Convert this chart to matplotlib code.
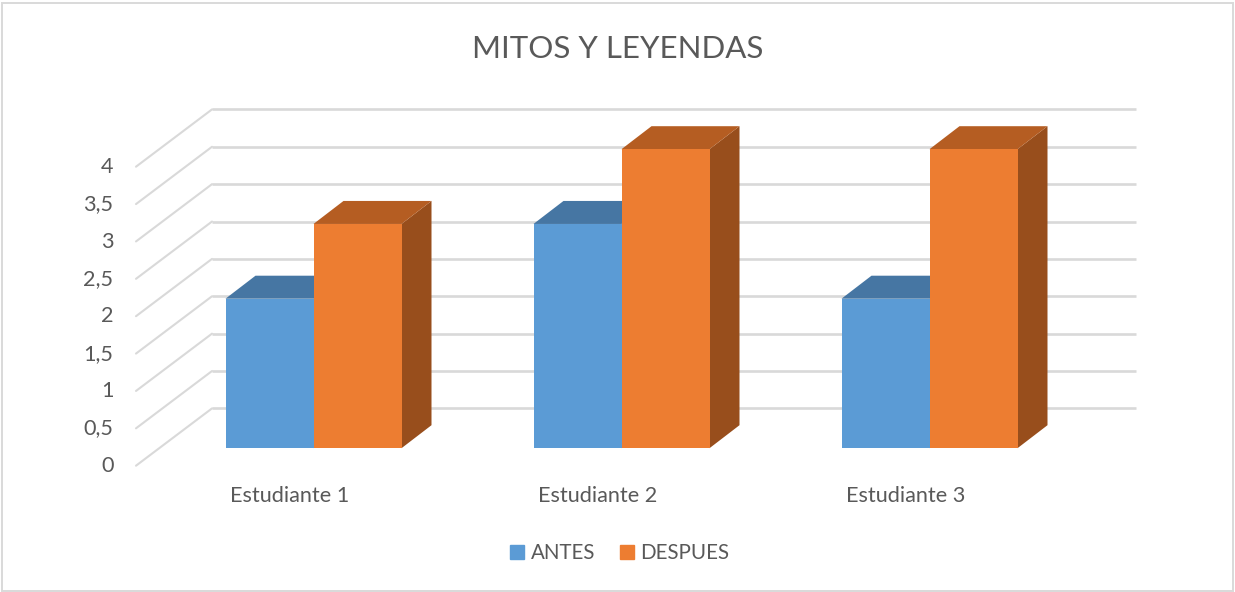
import matplotlib
matplotlib.use("Agg")
import matplotlib.pyplot as plt
from matplotlib.patches import Patch, Rectangle
from matplotlib.transforms import ScaledTranslation
import numpy as np

categories = ["Estudiante 1", "Estudiante 2", "Estudiante 3"]
antes = [2, 3, 2]
despues = [3, 4, 4]
y_ticks = [0, 0.5, 1, 1.5, 2, 2.5, 3, 3.5, 4]
y_labels = ["0", "0,5", "1", "1,5", "2", "2,5", "3", "3,5", "4"]
title = "MITOS Y LEYENDAS"

W, H = 1235, 592
PX_X = 308.0      # pixels per category
PX_Y = 74.75      # pixels per value unit
LEFT, RIGHT = 212.0, 1136.0
BOTTOM, TOP = 408.4, 109.4

plt.rcParams["font.family"] = ["Lato", "DejaVu Sans"]
TXT = "#595959"
GRID = "#D9D9D9"

fig = plt.figure(figsize=(W / 100, H / 100), dpi=100)
fig.patch.set_facecolor("white")
fig.add_artist(Rectangle((1.5 / W, 1 - 590.5 / H), 1231.5 / W, 587.5 / H,
                         transform=fig.transFigure, fill=False,
                         edgecolor=GRID, linewidth=1.4))

ax = fig.add_axes([LEFT / W, 1 - BOTTOM / H, (RIGHT - LEFT) / W, (BOTTOM - TOP) / H])
ax.patch.set_alpha(0)
for s in ax.spines.values():
    s.set_visible(False)

# floor depth (from the back wall to the front plane), in data units
floor_dx = -76.0 / PX_X
floor_dy = -57.3 / PX_Y
# bar front plane and bar depth
bar_front_dx = -52.5 / PX_X
bar_front_dy = -39.8 / PX_Y
bar_depth_dx = 30.0 / PX_X
bar_depth_dy = 23.0 / PX_Y
bar_w = 88.0 / PX_X

# gridlines: back wall and side wall
for v in y_ticks:
    ax.plot([0, 3], [v, v], color=GRID, lw=1.9, clip_on=False, zorder=1,
            solid_capstyle="butt")
    ax.plot([floor_dx, 0], [v + floor_dy, v], color=GRID, lw=1.5, clip_on=False,
            zorder=1, solid_capstyle="round")

def draw_series(values, offset, front, top, side, z):
    for i, v in enumerate(values):
        x0 = i + 0.5 + bar_front_dx + offset * bar_w
        x1 = x0 + bar_w
        yb = bar_front_dy
        yt = yb + v
        ax.fill([x1, x1 + bar_depth_dx, x1 + bar_depth_dx, x1],
                [yb, yb + bar_depth_dy, yt + bar_depth_dy, yt],
                color=side, lw=0, clip_on=False, zorder=z)
        ax.fill([x0, x0 + bar_depth_dx, x1 + bar_depth_dx, x1],
                [yt, yt + bar_depth_dy, yt + bar_depth_dy, yt],
                color=top, lw=0, clip_on=False, zorder=z)
        ax.bar(x0, v, width=bar_w, bottom=yb, align="edge", color=front, lw=0,
               clip_on=False, zorder=z + 0.1)

draw_series(antes, -1, "#5B9BD5", "#4676A3", "#3F6C96", 2)
draw_series(despues, 0, "#ED7D31", "#B55D22", "#984E1C", 3)

ax.set_xlim(0, 3)
ax.set_ylim(0, 4)

ax.set_xticks([i + 0.5 for i in range(len(categories))], categories)
ax.set_yticks(y_ticks, y_labels)
ax.tick_params(length=0, labelsize=15.6, labelcolor=TXT)
ax.tick_params(axis="y", pad=71)
ax.tick_params(axis="x", pad=56)
for lab in ax.get_yticklabels():
    lab.set_transform(lab.get_transform() + ScaledTranslation(0, -55.5 / 100, fig.dpi_scale_trans))
for lab in ax.get_xticklabels():
    lab.set_transform(lab.get_transform() + ScaledTranslation(-76 / 100, 0, fig.dpi_scale_trans))

fig.text(618 / W, 1 - 49.5 / H, title, ha="center", va="center", fontsize=22.5, color=TXT)

handles = [Patch(color="#5B9BD5", label="ANTES"), Patch(color="#ED7D31", label="DESPUES")]
fig.legend(handles=handles, loc="center", bbox_to_anchor=(619.5 / W, 1 - 553 / H),
           ncol=2, frameon=False, fontsize=14.8, labelcolor=TXT, handlelength=0.7,
           handleheight=0.7, handletextpad=0.3, columnspacing=1.2, borderpad=0)

fig.savefig("out.png", dpi=100)
